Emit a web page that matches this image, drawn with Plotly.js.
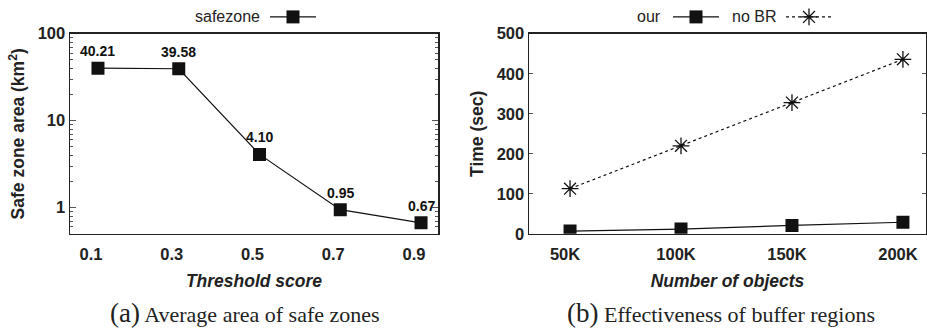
<!DOCTYPE html>
<html>
<head>
<meta charset="utf-8">
<script src="https://cdn.plot.ly/plotly-3.0.1.min.js"></script>
<style>
html,body{margin:0;padding:0;background:#fff;}
#chart{width:927px;height:328px;}
</style>
</head>
<body>
<div id="chart"></div>
<script>
// ---- data (a) ----
const thresholds = [0.1, 0.3, 0.5, 0.7, 0.9];
const thresholdLabels = ['0.1', '0.3', '0.5', '0.7', '0.9'];
const safeZoneArea = [40.21, 39.58, 4.10, 0.95, 0.67];
const areaTickVals = [1, 10, 100];
const areaTickText = ['1', '10', '100'];
const areaMinorTickVals = [0.6, 0.7, 0.8, 0.9, 2, 3, 4, 5, 6, 7, 8, 9, 20, 30, 40, 50, 60, 70, 80, 90];

// ---- data (b) ----
const objectCounts = [50, 100, 150, 200];
const objectLabels = ['50K', '100K', '150K', '200K'];
const timeOur = [7, 12, 21, 29];
const timeNoBR = [113, 220, 328, 436];

// series names (drawn gnuplot-style, label before the legend sample)
const seriesNames = ['safezone', 'our', 'no BR'];

const SANS = 'Liberation Sans, Arial, Helvetica, sans-serif';
const SERIF = 'Liberation Serif, Times New Roman, serif';
const FRAME = '#222';

const traces = [
  {
    x: thresholds, y: safeZoneArea, name: '', legend: 'legend',
    xaxis: 'x', yaxis: 'y',
    mode: 'lines+markers',
    line: {color: '#111', width: 1.2},
    marker: {symbol: 'square', size: 13, color: '#111'},
    hovertemplate: seriesNames[0] + ': %{y}<extra></extra>'
  },
  {
    x: objectCounts, y: timeOur, name: '', legend: 'legend2',
    xaxis: 'x2', yaxis: 'y2',
    mode: 'lines+markers',
    line: {color: '#111', width: 1.2},
    marker: {symbol: 'square', size: 13, color: '#111'},
    hovertemplate: seriesNames[1] + ': %{y}<extra></extra>'
  },
  {
    x: objectCounts, y: timeNoBR, name: '', legend: 'legend3',
    xaxis: 'x2', yaxis: 'y2',
    mode: 'lines+markers',
    line: {color: '#111', width: 1.2, dash: '3px,3px'},
    marker: {symbol: 'asterisk-open', size: 14, color: '#111', line: {color: '#111', width: 1.3}},
    hovertemplate: seriesNames[2] + ': %{y}<extra></extra>'
  }
];

const W = 927, H = 328;
const px = v => v / W;
const py = v => 1 - v / H;

const tickFont = {family: SANS, size: 16.5, weight: 'bold', color: '#222'};
const titleFont = {family: SANS, size: 17.5, weight: 'bold', color: '#222'};
const xTitleFont = {family: SANS, size: 17.5, weight: 'bold', style: 'italic', color: '#222'};

const legendBase = {
  orientation: 'h', xanchor: 'left', yanchor: 'middle', y: py(14),
  bgcolor: 'rgba(0,0,0,0)', borderwidth: 0, itemwidth: 46,
  font: {family: SANS, size: 16, color: '#222'}
};

const layout = {
  width: W, height: H,
  margin: {l: 0, r: 0, t: 0, b: 0},
  paper_bgcolor: '#fff', plot_bgcolor: '#fff',
  showlegend: true,
  xaxis: {
    domain: [px(70), px(438)], anchor: 'y',
    range: [0.0307, 0.942],
    tickmode: 'array', tickvals: thresholds, ticktext: thresholdLabels,
    ticklabelshift: -7,
    ticks: 'outside', ticklen: 5, tickcolor: 'rgba(0,0,0,0)',
    showgrid: false, zeroline: false, automargin: true,
    showline: true, mirror: true, linecolor: FRAME, linewidth: 1.5,
    tickfont: tickFont,
    title: {text: 'Threshold score', font: xTitleFont, standoff: 12}
  },
  yaxis: {
    domain: [py(233), py(31)], anchor: 'x',
    type: 'log', range: [Math.log10(0.5), 2],
    tickmode: 'array', tickvals: areaTickVals, ticktext: areaTickText,
    ticks: 'inside', ticklen: 6, tickcolor: '#555', tickwidth: 1,
    minor: {tickmode: 'array', tickvals: areaMinorTickVals, ticks: 'inside', ticklen: 3, tickcolor: '#555', tickwidth: 1, showgrid: false},
    showgrid: false, zeroline: false,
    showline: true, mirror: 'ticks', linecolor: FRAME, linewidth: 1.5,
    tickfont: tickFont,
    title: {text: 'Safe zone area (km<sup>2</sup>)', font: titleFont, standoff: 8}
  },
  xaxis2: {
    domain: [px(529), px(926)], anchor: 'y2',
    range: [31.5, 210.4],
    tickmode: 'array', tickvals: objectCounts, ticktext: objectLabels,
    ticklabelshift: -5,
    ticks: 'outside', ticklen: 5, tickcolor: 'rgba(0,0,0,0)',
    showgrid: false, zeroline: false, automargin: true,
    showline: true, mirror: true, linecolor: FRAME, linewidth: 1.5,
    tickfont: tickFont,
    title: {text: 'Number of objects', font: xTitleFont, standoff: 12}
  },
  yaxis2: {
    domain: [py(233), py(31)], anchor: 'x2',
    range: [0, 500], tickmode: 'linear', tick0: 0, dtick: 100,
    ticks: 'inside', ticklen: 4, tickcolor: '#555', tickwidth: 1,
    showgrid: false, zeroline: false,
    showline: true, mirror: 'ticks', linecolor: FRAME, linewidth: 1.5,
    tickfont: tickFont,
    title: {text: 'Time (sec)', font: titleFont, standoff: 8}
  },
  legend: Object.assign({}, legendBase, {x: px(265)}),
  legend2: Object.assign({}, legendBase, {x: px(668)}),
  legend3: Object.assign({}, legendBase, {x: px(781)}),
  annotations: [
    {text: '<span style="font-size:27px">(a)</span> Average area of safe zones', xref: 'paper', yref: 'paper', x: px(245), y: py(313), xanchor: 'center', yanchor: 'middle', showarrow: false, font: {family: SERIF, size: 22, color: '#222'}},
    {text: '<span style="font-size:27px">(b)</span> Effectiveness of buffer regions', xref: 'paper', yref: 'paper', x: px(721), y: py(313), xanchor: 'center', yanchor: 'middle', showarrow: false, font: {family: SERIF, size: 22, color: '#222'}}
  ]
};

// value labels above the safezone points (log axis: annotation y is log10 of the value)
thresholds.forEach((t, i) => {
  layout.annotations.push({
    text: safeZoneArea[i].toFixed(2), xref: 'x', yref: 'y', x: t, y: Math.log10(safeZoneArea[i]),
    yshift: 17, xanchor: 'center', yanchor: 'middle', showarrow: false,
    font: {family: SANS, size: 14, weight: 'bold', color: '#111'}
  });
});

// legend labels drawn before their samples (gnuplot style)
const legendLabelRight = [262, 663, 778];
seriesNames.forEach((name, i) => {
  layout.annotations.push({
    text: name, xref: 'paper', yref: 'paper', x: px(legendLabelRight[i]), y: py(14),
    xanchor: 'right', yanchor: 'middle', showarrow: false,
    font: {family: SANS, size: 16, color: '#222'}
  });
});

Plotly.newPlot('chart', traces, layout, {displayModeBar: false, staticPlot: true});
</script>
</body>
</html>
